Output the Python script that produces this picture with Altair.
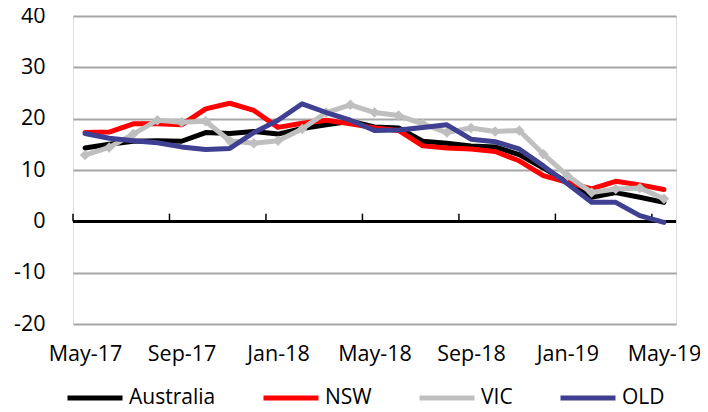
import altair as alt
import pandas as pd

months = ["May-17", "Jun-17", "Jul-17", "Aug-17", "Sep-17", "Oct-17", "Nov-17", "Dec-17",
          "Jan-18", "Feb-18", "Mar-18", "Apr-18", "May-18", "Jun-18", "Jul-18", "Aug-18",
          "Sep-18", "Oct-18", "Nov-18", "Dec-18", "Jan-19", "Feb-19", "Mar-19", "Apr-19", "May-19"]

australia = [14.3, 15.0, 15.6, 15.7, 15.6, 17.3, 17.1, 17.5, 17.0, 18.1, 18.8, 19.5, 18.4,
             18.2, 15.6, 15.2, 14.7, 14.5, 13.0, 10.4, 7.6, 4.7, 5.6, 4.7, 3.7]
nsw = [17.3, 17.4, 19.0, 19.0, 18.8, 21.9, 23.0, 21.6, 18.3, 19.1, 19.7, 19.0, 18.2,
       17.7, 14.7, 14.3, 14.1, 13.6, 11.8, 8.9, 7.6, 6.3, 7.8, 7.1, 6.2]
vic = [12.9, 14.4, 17.0, 19.7, 19.3, 19.5, 15.7, 15.2, 15.7, 18.0, 21.2, 22.7, 21.2,
       20.6, 19.0, 17.3, 18.2, 17.5, 17.7, 13.1, 8.9, 5.6, 6.3, 6.5, 4.4]
qld = [17.1, 16.2, 15.7, 15.3, 14.5, 14.0, 14.2, 17.3, 19.7, 22.9, 21.2, 19.7, 17.7,
       17.8, 18.3, 18.8, 16.0, 15.5, 14.1, 10.8, 7.3, 3.7, 3.7, 1.1, -0.2]

series_names = ["Australia", "NSW", "VIC", "QLD"]
series_colors = ["#000000", "#FF0000", "#BFBFBF", "#404093"]
y_ticks = [-20, -10, 0, 10, 20, 30, 40]
x_label_idx = [0, 4, 8, 12, 16, 20, 24]
tick_idx = [-0.5, 3.5, 7.5, 11.5, 15.5, 19.5, 23.5]

rows = []
for name, vals in zip(series_names, [australia, nsw, vic, qld]):
    for i, (m, v) in enumerate(zip(months, vals)):
        rows.append({"idx": i, "month": m, "series": name, "value": v})
df = pd.DataFrame(rows)
ticks_df = pd.DataFrame({"idx": tick_idx})

FONT = "Open Sans"
label_expr = "[" + ",".join(f"'{m}'" for m in months) + "][datum.value]"

x_enc = alt.X("idx:Q",
              scale=alt.Scale(domain=[-0.5, 24.5], nice=False, zero=False),
              axis=alt.Axis(values=x_label_idx, labelExpr=label_expr, ticks=False,
                            domain=False, grid=False, title=None, labelFontSize=21.5,
                            labelPadding=19, labelColor="#000000", labelFont=FONT))
y_enc = alt.Y("value:Q",
              scale=alt.Scale(domain=[-20, 40], nice=False, zero=False),
              axis=alt.Axis(values=y_ticks, grid=True, gridColor="#A6A6A6", gridWidth=2,
                            domain=False, ticks=False, title=None, labelFontSize=21.5,
                            labelExpr="'' + datum.value",
                            labelPadding=28, labelColor="#000000", labelFont=FONT))
color_enc = alt.Color("series:N",
                      scale=alt.Scale(domain=series_names, range=series_colors),
                      legend=alt.Legend(title=None, orient="none", legendX=-8, legendY=352,
                                        direction="horizontal", columns=4,
                                        symbolType="stroke", symbolSize=3025,
                                        symbolStrokeWidth=5, columnPadding=37,
                                        labelOffset=4, labelFontSize=21, labelFont=FONT,
                                        labelColor="#000000", padding=0))

zero_line = alt.Chart(df).mark_rule(color="#000000", strokeWidth=2).encode(
    y=alt.datum(0)
)
tick_marks = alt.Chart(ticks_df).mark_rule(color="#000000", strokeWidth=1.5).encode(
    x=x_enc, y=alt.datum(0), y2=alt.datum(1.5)
)

layers = [zero_line, tick_marks]
for name in series_names:
    base = alt.Chart(df).transform_filter(alt.datum.series == name)
    layers.append(base.mark_line(strokeWidth=5, strokeCap="round", strokeJoin="round").encode(
        x=x_enc, y=y_enc, color=color_enc))
    if name == "VIC":
        layers.append(base.mark_point(shape="diamond", filled=True, size=110, opacity=1).encode(
            x=x_enc, y=y_enc, color=alt.value("#BFBFBF")))

chart = alt.layer(*layers).properties(
    width=603, height=308,
    autosize=alt.AutoSizeParams(type="none"),
    padding={"left": 65, "top": 8, "right": 24, "bottom": 80},
).configure_view(stroke=None).configure(font=FONT)

chart.save("out.html", embed_options={"renderer": "svg", "actions": False})
